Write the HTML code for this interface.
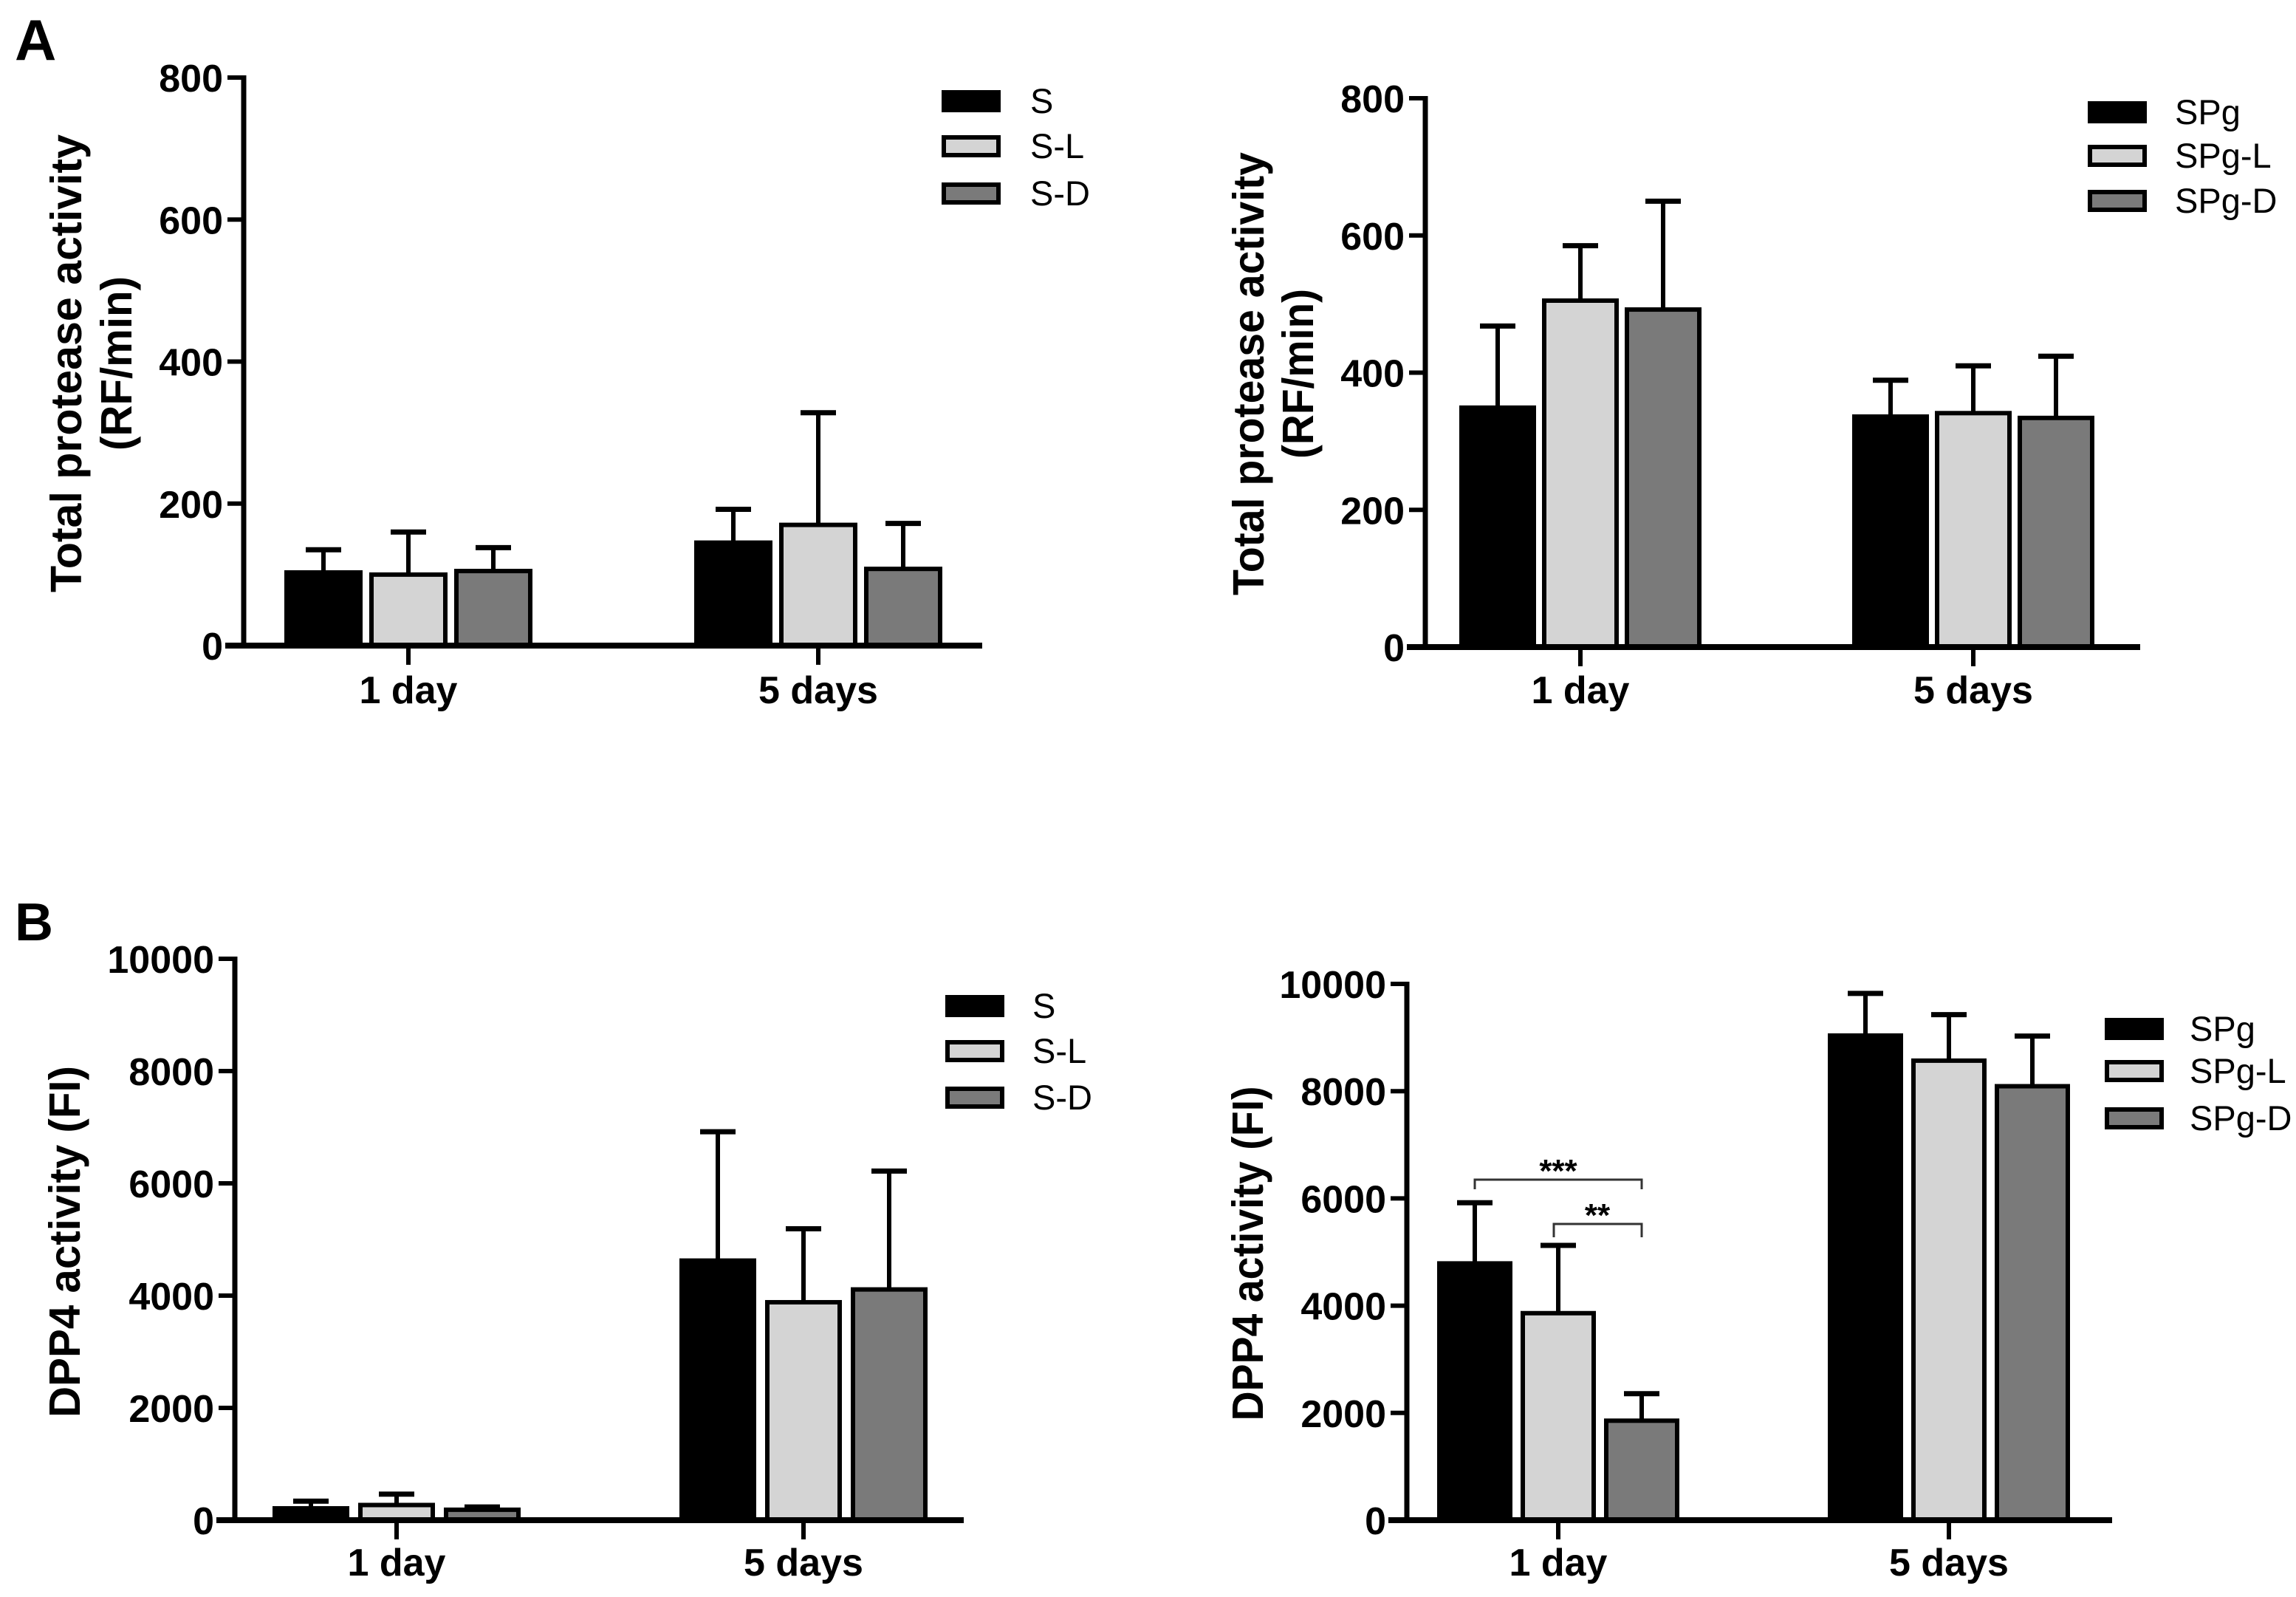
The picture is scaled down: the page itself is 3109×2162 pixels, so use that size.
<!DOCTYPE html>
<html><head><meta charset="utf-8"><style>
html,body{margin:0;padding:0;background:#fff;}
svg{display:block;font-family:"Liberation Sans",Arial,sans-serif;}
</style></head><body>
<svg id="fig" width="3109" height="2162" viewBox="0 0 3109 2162" xmlns="http://www.w3.org/2000/svg">
<rect width="3109" height="2162" fill="#fff"/>
<text x="20" y="81" font-size="78" font-weight="bold">A</text>
<text x="20" y="1273" font-size="72" font-weight="bold">B</text>
</svg>
<script>
// ---- data ----
const categories = ["1 day", "5 days"];
const seriesA1 = ["S", "S-L", "S-D"];
const seriesA2 = ["SPg", "SPg-L", "SPg-D"];
const a1Means = [[103, 100, 105], [145, 170, 108]];
const a1Errs  = [[135, 160, 138], [192, 328, 172]];
const a2Means = [[349, 505, 492], [336, 341, 334]];
const a2Errs  = [[468, 585, 650], [389, 410, 424]];
const b1Means = [[211, 270, 186], [4624, 3882, 4110]];
const b1Errs  = [[338, 464, 236], [6920, 5190, 6219]];
const b2Means = [[4788, 3860, 1855], [9037, 8569, 8092]];
const b2Errs  = [[5919, 5124, 2359], [9823, 9426, 9028]];
const ticksA = [0, 200, 400, 600, 800];
const ticksB = [0, 2000, 4000, 6000, 8000, 10000];

const NS = "http://www.w3.org/2000/svg";
const svg = document.getElementById("fig");
const fills = ["#000000", "#d4d4d4", "#7a7a7a"];
function mk(tag, attrs, parent) {
  const e = document.createElementNS(NS, tag);
  for (const k in attrs) e.setAttribute(k, attrs[k]);
  (parent || svg).appendChild(e);
  return e;
}
function txt(s, attrs, parent) { const t = mk("text", attrs, parent); t.textContent = s; return t; }

function chart(c) {
  const g = mk("g", {});
  
  
  const max = c.ticks[c.ticks.length - 1];
  const y = v => c.y0 - (v / max) * (c.y0 - c.yTop);
  c.means.forEach((grp, gi) => {
    grp.forEach((v, si) => {
      const cx = c.centers[gi] + (si - 1) * c.step;
      const ey = y(c.errs[gi][si]);
      const el = mk("line", {x1: cx, x2: cx, y1: y(v), y2: ey, stroke: "#000", "stroke-width": 6}, g);
      
      
      const cap = mk("line", {x1: cx - 24, x2: cx + 24, y1: ey, y2: ey, stroke: "#000", "stroke-width": 7}, g);
      
      
      const r = mk("rect", {x: cx - c.bw / 2 + 3, y: y(v), width: c.bw - 6, height: c.y0 - y(v), fill: fills[si], stroke: "#000", "stroke-width": 6}, g);
      
      
    });
  });
  const ya = mk("line", {x1: c.ax, x2: c.ax, y1: c.yTop - 3, y2: c.y0, stroke: "#000", "stroke-width": 7}, g);
  
  
  const xa = mk("line", {x1: c.ax - 25, x2: c.xEnd, y1: c.y0, y2: c.y0, stroke: "#000", "stroke-width": 8}, g);
  
  
  c.ticks.forEach(t => {
    mk("line", {x1: c.ax - 22, x2: c.ax, y1: y(t), y2: y(t), stroke: "#000", "stroke-width": 6}, g);
    const tl = txt(String(t), {x: c.ax - 28, y: y(t) + 19, "font-size": 52, "font-weight": "bold", "text-anchor": "end"}, g);
    
    
  });
  categories.forEach((cat, gi) => {
    mk("line", {x1: c.centers[gi], x2: c.centers[gi], y1: c.y0, y2: c.y0 + 26, stroke: "#000", "stroke-width": 6}, g);
    const cl = txt(cat, {x: c.centers[gi], y: c.labY, "font-size": 52, "font-weight": "bold", "text-anchor": "middle"}, g);
    
    
  });
  c.title.forEach((line, i) => {
    const tt = txt(line.s, {x: 0, y: 0, "font-size": 59, "font-weight": "bold", "text-anchor": "middle",
      transform: `translate(${line.x},${c.titleY}) rotate(-90)`, textLength: line.len, lengthAdjust: "spacingAndGlyphs"}, g);
    
    
  });
  c.series.forEach((s, si) => {
    const ly = c.legY[si];
    const sw = mk("rect", {x: c.legX + 3, y: ly + 3, width: 74, height: 24, fill: fills[si], stroke: "#000", "stroke-width": 6}, g);
    
    
    const lt = txt(s, {x: c.legTX, y: ly + 31, "font-size": 47}, g);
    
    
  });
  return {g, y};
}

chart({name: "chart-a-s", series: seriesA1, means: a1Means, errs: a1Errs, ticks: ticksA,
  ax: 330, y0: 874, yTop: 105, xEnd: 1330, centers: [553, 1108], step: 115, bw: 106, labY: 952,
  title: [{s: "Total protease activity", x: 110, len: 620}, {s: "(RF/min)", x: 178, len: 236}], titleY: 492,
  legX: 1275, legTX: 1395, legY: [122, 183, 247]});
chart({name: "chart-a-spg", series: seriesA2, means: a2Means, errs: a2Errs, ticks: ticksA,
  ax: 1930, y0: 876, yTop: 133, xEnd: 2898, centers: [2140, 2672], step: 112, bw: 104, labY: 952,
  title: [{s: "Total protease activity", x: 1711, len: 600}, {s: "(RF/min)", x: 1778, len: 230}], titleY: 506,
  legX: 2827, legTX: 2945, legY: [137, 196, 257]});
chart({name: "chart-b-s", series: seriesA1, means: b1Means, errs: b1Errs, ticks: ticksB,
  ax: 318, y0: 2058, yTop: 1298, xEnd: 1305, centers: [537, 1088], step: 116, bw: 104, labY: 2133,
  title: [{s: "DPP4 activity (FI)", x: 108, len: 476}], titleY: 1681,
  legX: 1280, legTX: 1398, legY: [1347, 1408, 1471]});
chart({name: "chart-b-spg", series: seriesA2, means: b2Means, errs: b2Errs, ticks: ticksB,
  ax: 1905, y0: 2058, yTop: 1332, xEnd: 2860, centers: [2110, 2639], step: 113, bw: 102, labY: 2133,
  title: [{s: "DPP4 activity (FI)", x: 1710, len: 453}], titleY: 1697,
  legX: 2850, legTX: 2965, legY: [1378, 1435, 1499]});

const s1 = mk("path", {d: "M1997 1610 V1597 H2223 V1610", fill: "none", stroke: "#333", "stroke-width": 3});


const st1 = txt("***", {x: 2110, y: 1600, "font-size": 44, "font-weight": "bold", "text-anchor": "middle"});


const s2 = mk("path", {d: "M2104 1675 V1657 H2223 V1675", fill: "none", stroke: "#333", "stroke-width": 3});


const st2 = txt("**", {x: 2163, y: 1660, "font-size": 44, "font-weight": "bold", "text-anchor": "middle"});


</script>
</body></html>
